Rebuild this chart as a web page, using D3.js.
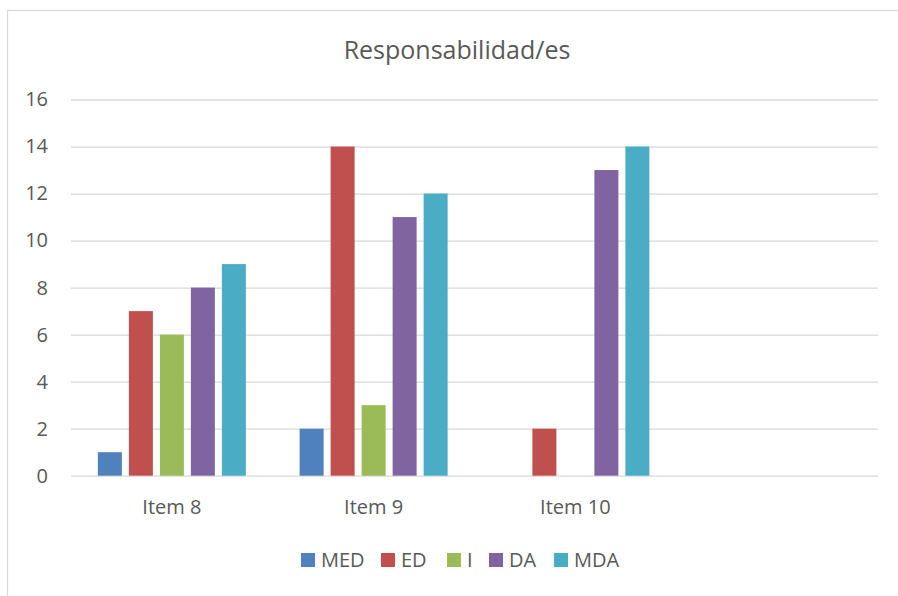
<!DOCTYPE html>
<html><head><meta charset="utf-8">
<script src="https://cdn.jsdelivr.net/npm/d3@7"></script>
<style>body{margin:0;background:#fff;} text{font-family:"Open Sans","Noto Sans",sans-serif;fill:#595959;}</style>
</head><body>
<svg id="c" width="898" height="596"></svg>
<script>
const categories = ["Item 8", "Item 9", "Item 10", ""];
const seriesNames = ["MED", "ED", "I", "DA", "MDA"];
const MED = [1, 2, 0, null];
const ED = [7, 14, 2, null];
const I = [6, 3, 0, null];
const DA = [8, 11, 13, null];
const MDA = [9, 12, 14, null];
const yTicks = [0, 2, 4, 6, 8, 10, 12, 14, 16];
const colors = ["#4F81BD", "#C0504D", "#9BBB59", "#8064A2", "#4BACC6"];
const seriesValues = [MED, ED, I, DA, MDA];

const svg = d3.select("#c");
svg.append("rect").attr("x", 7.5).attr("y", 10.5).attr("width", 900).attr("height", 600)
  .attr("fill", "#fff").attr("stroke", "#d9d9d9").attr("stroke-width", 1.2);

const x0 = d3.scaleBand().domain(categories.map((c, i) => i)).range([71, 878]).paddingInner(0).paddingOuter(0);
const y = d3.scaleLinear().domain([0, 16]).range([475.7, 99.5]);
const barW = 24, gap = 7;
const groupW = seriesNames.length * barW + (seriesNames.length - 1) * gap;

// gridlines
const gAxis = svg.append("g").attr("transform", "translate(71,0)")
  .call(d3.axisLeft(y).tickValues(yTicks).tickSize(-807).tickPadding(23));
gAxis.select(".domain").remove();
gAxis.selectAll(".tick line").attr("stroke", "#d9d9d9").attr("stroke-width", 1.3);
gAxis.selectAll(".tick text").style("font-size", "20px").attr("fill", "#595959");

// bars
seriesValues.forEach((vals, si) => {
  svg.append("g").selectAll("rect").data(vals.map((v, ci) => ({v, ci})).filter(d => d.v))
    .join("rect")
    .attr("x", d => x0(d.ci) + (x0.bandwidth() - groupW) / 2 + si * (barW + gap))
    .attr("y", d => y(d.v))
    .attr("width", barW)
    .attr("height", d => y(0) - y(d.v))
    .attr("fill", colors[si]);
});

// x labels
const gx = svg.append("g").attr("transform", "translate(0,475.7)")
  .call(d3.axisBottom(x0).tickFormat(i => categories[i]).tickSize(0).tickPadding(24));
gx.select(".domain").remove();
gx.selectAll(".tick text").style("font-size", "20px").attr("fill", "#595959");

// title
svg.append("text").attr("x", 457).attr("y", 59).attr("text-anchor", "middle")
  .style("font-size", "25px").text("Responsabilidad/es");

// legend
const legX = [301, 381, 447, 489, 554];
const leg = svg.append("g");
seriesNames.forEach((n, i) => {
  leg.append("rect").attr("x", legX[i]).attr("y", 553).attr("width", 14).attr("height", 14).attr("fill", colors[i]);
  leg.append("text").attr("x", legX[i] + 20).attr("y", 567).style("font-size", "20px").text(n);
});
</script>
</body></html>
